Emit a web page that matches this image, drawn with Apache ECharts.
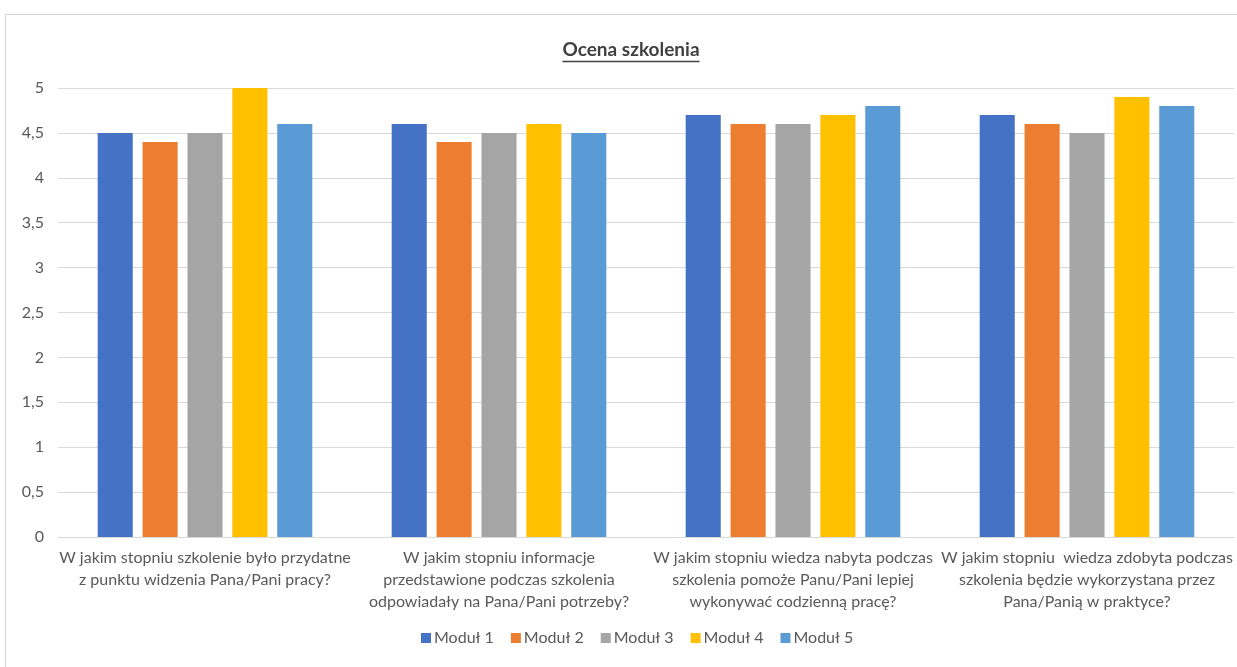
<!DOCTYPE html>
<html>
<head>
<meta charset="utf-8">
<script src="https://cdn.jsdelivr.net/npm/echarts@6/dist/echarts.min.js"></script>
<style>
  html, body { margin: 0; padding: 0; background: #fff; }
  #chart { width: 1237px; height: 667px; }
</style>
</head>
<body>
<div id="chart"></div>
<script>
// Survey questions (x-axis categories)
const categories = [
  'W jakim stopniu szkolenie było przydatne\nz punktu widzenia Pana/Pani pracy?',
  'W jakim stopniu informacje\nprzedstawione podczas szkolenia\nodpowiadały na Pana/Pani potrzeby?',
  'W jakim stopniu wiedza nabyta podczas\nszkolenia pomoże Panu/Pani lepiej\nwykonywać codzienną pracę?',
  'W jakim stopniu  wiedza zdobyta podczas\nszkolenia będzie wykorzystana przez\nPana/Panią w praktyce?'
];

// Average ratings per module
const modul1 = [4.5, 4.6, 4.7, 4.7];
const modul2 = [4.4, 4.4, 4.6, 4.6];
const modul3 = [4.5, 4.5, 4.6, 4.5];
const modul4 = [5.0, 4.6, 4.7, 4.9];
const modul5 = [4.6, 4.5, 4.8, 4.8];

const seriesNames = ['Moduł 1', 'Moduł 2', 'Moduł 3', 'Moduł 4', 'Moduł 5'];
const seriesValues = [modul1, modul2, modul3, modul4, modul5];
const colors = ['#4472C4', '#ED7D31', '#A5A5A5', '#FFC000', '#5B9BD5'];

const FONT = 'Lato, "Liberation Sans", sans-serif';
const titleText = 'Ocena szkolenia';
const titleSize = 19;

// measure the title so the underline fits it exactly
const ctx = document.createElement('canvas').getContext('2d');
ctx.font = 'bold ' + titleSize + 'px ' + FONT;
const titleW = ctx.measureText(titleText).width;
const titleCx = 631;

const chart = echarts.init(document.getElementById('chart'));

chart.setOption({
  animation: false,
  color: colors,
  textStyle: { fontFamily: FONT },
  graphic: [
    // chart area frame
    {
      type: 'rect',
      shape: { x: 5.5, y: 14.5, width: 1250, height: 700 },
      style: { fill: 'none', stroke: '#d0d0d0', lineWidth: 1 },
      silent: true
    },
    // title
    {
      type: 'text',
      x: titleCx,
      y: 50,
      style: {
        text: titleText,
        font: 'bold ' + titleSize + 'px ' + FONT,
        fill: '#404040',
        align: 'center',
        verticalAlign: 'middle'
      },
      silent: true
    },
    // title underline
    {
      type: 'line',
      shape: { x1: titleCx - titleW / 2, y1: 61.5, x2: titleCx + titleW / 2, y2: 61.5 },
      style: { stroke: '#404040', lineWidth: 1.3 },
      silent: true
    }
  ],
  legend: {
    data: seriesNames,
    bottom: 16,
    left: 416,
    itemWidth: 10,
    itemHeight: 10,
    itemGap: 17,
    icon: 'rect',
    textStyle: { fontFamily: FONT, fontSize: 16, color: '#595959', padding: [0, 0, 0, -2] }
  },
  grid: { left: 58, right: 3, top: 88, bottom: 130, containLabel: false, outerBoundsMode: 'none' },
  xAxis: {
    type: 'category',
    data: categories,
    axisLine: { lineStyle: { color: '#d9d9d9' } },
    axisTick: { show: false },
    axisLabel: {
      interval: 0,
      margin: 10,
      fontFamily: FONT,
      fontSize: 16,
      lineHeight: 22,
      color: '#595959',
      align: 'center',
      hideOverlap: false
    }
  },
  yAxis: {
    type: 'value',
    min: 0,
    max: 5,
    interval: 0.5,
    axisLine: { show: false },
    axisTick: { show: false },
    splitLine: { lineStyle: { color: '#d9d9d9' } },
    axisLabel: {
      margin: 14,
      fontFamily: FONT,
      fontSize: 16,
      color: '#595959',
      formatter: v => String(v).replace('.', ',')
    }
  },
  series: seriesNames.map((name, i) => ({
    name,
    type: 'bar',
    data: seriesValues[i],
    barGap: '28%',
    barCategoryGap: '27%'
  }))
});
</script>
</body>
</html>
